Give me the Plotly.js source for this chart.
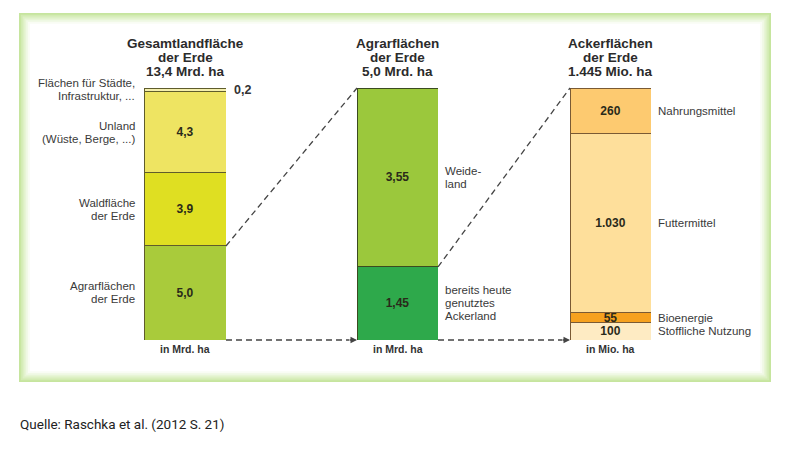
<!DOCTYPE html>
<html>
<head>
<meta charset="utf-8">
<script src="https://cdn.plot.ly/plotly-3.0.1.min.js"></script>
<style>html,body{margin:0;padding:0;background:#fff;}#chart{width:793px;height:450px;}</style>
</head>
<body>
<div id="chart"></div>
<script>
// ---- data ----
const leftCats = ['Agrarflächen<br>der Erde', 'Waldfläche<br>der Erde', 'Unland<br>(Wüste, Berge, ...)', 'Flächen für Städte,<br>Infrastruktur, ...'];
const leftValues = [5.0, 3.9, 4.3, 0.2];
const midCats = ['bereits heute<br>genutztes<br>Ackerland', 'Weide-<br>land'];
const midValues = [1.45, 3.55];
const rightCats = ['Stoffliche Nutzung', 'Bioenergie', 'Futtermittel', 'Nahrungsmittel'];
const rightValues = [100, 55, 1030, 260];
const panelTitles = [['Gesamtlandfläche', 'der Erde'], ['Agrarflächen', 'der Erde'], ['Ackerflächen', 'der Erde']];
const panelUnits = ['Mrd. ha', 'Mrd. ha', 'Mio. ha'];
const sourceText = 'Quelle: Raschka et al. (2012 S. 21)';

// ---- styles ----
const leftColors = ['#a9cb3b', '#dfdf22', '#eee462', '#f4efae'];
const midColors = ['#2ea94b', '#9bc83c'];
const rightColors = ['#feebc3', '#f6a11f', '#fedf9b', '#fdca70'];
const FONT = 'Liberation Sans, Arial, sans-serif';
const LINE = 13; // label line spacing in px

function fmtDE(v, d) {
  const s = v.toFixed(d);
  let [i, f] = s.split('.');
  i = i.replace(/\B(?=(\d{3})+(?!\d))/g, '.');
  return f ? i + ',' + f : i;
}

const panels = [
  {cats: leftCats, vals: leftValues, colors: leftColors, dec: 1, tdec: 1, ax: '', line: '#5f5c2c', side: 'left'},
  {cats: midCats, vals: midValues, colors: midColors, dec: 2, tdec: 1, ax: '2', line: '#3b4b20', side: 'right'},
  {cats: rightCats, vals: rightValues, colors: rightColors, dec: 0, tdec: 0, ax: '3', line: '#7a5a34', side: 'right'}
];
const domains = [[144/793, 226/793], [357/793, 438/793], [570/793, 651/793]];

const traces = [];
const annotations = [];
const layout = {
  width: 793, height: 450,
  margin: {l: 0, r: 0, t: 88, b: 110, pad: 0},
  paper_bgcolor: 'rgba(0,0,0,0)', plot_bgcolor: 'rgba(0,0,0,0)',
  barmode: 'stack', showlegend: false,
  font: {family: FONT, color: '#333'},
  shapes: [], annotations: annotations
};

const totals = [];
panels.forEach((p, pi) => {
  const total = p.vals.reduce((a, b) => a + b, 0);
  totals.push(total);
  const xa = 'x' + p.ax, ya = 'y' + p.ax;
  layout['xaxis' + p.ax] = {domain: domains[pi], range: [-0.5, 0.5], visible: false, fixedrange: true, anchor: ya};
  layout['yaxis' + p.ax] = {domain: [0, 1], range: [0, total], visible: false, fixedrange: true, anchor: xa};
  let cum = 0;
  p.vals.forEach((v, i) => {
    const small = v / total < 0.03 && pi === 0;
    traces.push({
      type: 'bar', x: [0], y: [v], width: 1, xaxis: xa, yaxis: ya,
      marker: {color: p.colors[i], line: {color: p.line, width: 1}},
      text: [small ? '' : fmtDE(v, p.dec)], textposition: 'inside', insidetextanchor: 'middle',
      textangle: 0, constraintext: 'none',
      textfont: {family: FONT, size: 12, weight: 'bold', color: '#2a2a1a'},
      hoverinfo: 'skip', cliponaxis: false
    });
    const c = cum + v / 2;
    const parts = p.cats[i].split('<br>');
    parts.forEach((t, li) => {
      annotations.push({
        xref: xa, yref: ya, x: p.side === 'left' ? -0.5 : 0.5, y: c,
        xanchor: p.side === 'left' ? 'right' : 'left', xshift: p.side === 'left' ? -7 : 5,
        yanchor: 'middle', yshift: ((parts.length - 1) / 2 - li) * LINE,
        text: t, showarrow: false,
        font: {family: FONT, size: 11.5, color: '#3a3a3a'}
      });
    });
    if (small) {
      annotations.push({
        xref: xa, yref: ya, x: 0.5, y: c, xanchor: 'left', xshift: 6, yanchor: 'middle',
        text: fmtDE(v, p.dec), showarrow: false,
        font: {family: FONT, size: 12.5, weight: 'bold', color: '#333'}
      });
    }
    cum += v;
  });
  // title lines
  const lines = panelTitles[pi].concat([fmtDE(total, p.tdec) + ' ' + panelUnits[pi]]);
  lines.forEach((t, li) => {
    annotations.push({
      xref: xa, yref: 'paper', x: 0, y: 1, xanchor: 'center', yanchor: 'middle',
      yshift: 17 + (lines.length - 1 - li) * 14, text: t, showarrow: false,
      font: {family: FONT, size: 13.5, weight: 'bold', color: '#2b2b2b'}
    });
  });
  annotations.push({
    xref: xa, yref: 'paper', x: 0, y: 0, xanchor: 'center', yanchor: 'top', yshift: -1,
    text: 'in ' + panelUnits[pi], showarrow: false,
    font: {family: FONT, size: 10.5, weight: 'bold', color: '#333'}
  });
});

// connectors (computed from data + domains)
const dash = {color: '#444', width: 1.3, dash: '6px,4px'};
layout.shapes.push(
  {type: 'line', xref: 'paper', yref: 'paper', x0: domains[0][1], y0: leftValues[0] / totals[0], x1: domains[1][0], y1: 1, line: dash},
  {type: 'line', xref: 'paper', yref: 'paper', x0: domains[1][1], y0: midValues[0] / totals[1], x1: domains[2][0], y1: 1, line: dash},
  {type: 'line', xref: 'paper', yref: 'paper', x0: domains[0][1], y0: 0, x1: domains[1][0] - 8/793, y1: 0, line: dash},
  {type: 'line', xref: 'paper', yref: 'paper', x0: domains[1][1], y0: 0, x1: domains[2][0] - 8/793, y1: 0, line: dash}
);
[1, 2].forEach(k => {
  annotations.push({
    xref: 'paper', yref: 'paper', x: domains[k][0], y: 0, ax: -9, ay: 0, text: '',
    showarrow: true, arrowhead: 2, arrowsize: 1, arrowwidth: 1.3, arrowcolor: '#444', standoff: 0
  });
});

// frame with soft green glow
const px = v => v / 793, py = v => (340 - v) / 252;
const glow = ['#c6e59e', '#d2ebb2', '#ddf0c4', '#e8f5d6', '#f1f9e7', '#f9fcf4', '#ffffff'];
glow.forEach((c, i) => {
  const d = i * 1.8;
  layout.shapes.push({
    type: 'rect', xref: 'paper', yref: 'paper', layer: 'below',
    x0: px(19 + d), x1: px(771 - d), y0: py(382 - d), y1: py(13 + d),
    fillcolor: c, line: {width: 0}
  });
});

annotations.push({
  xref: 'paper', yref: 'paper', x: px(18), y: py(424), xanchor: 'left', yanchor: 'middle',
  text: sourceText, showarrow: false,
  font: {family: 'Roboto, Liberation Sans, sans-serif', size: 13.5, color: '#222'}
});

Plotly.newPlot('chart', traces, layout, {staticPlot: true, displayModeBar: false});
</script>
</body>
</html>
